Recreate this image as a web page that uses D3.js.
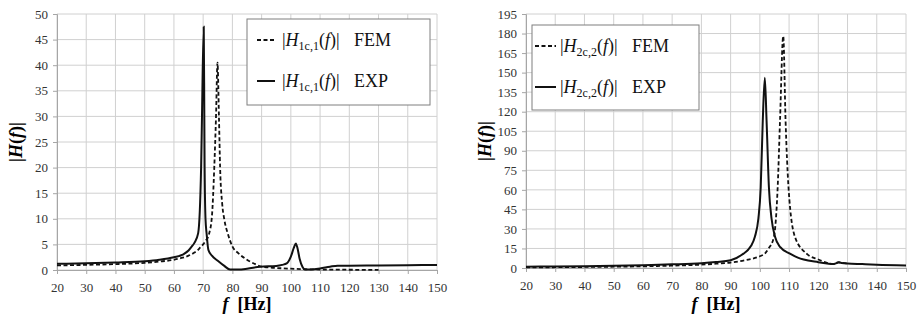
<!DOCTYPE html>
<html><head><meta charset="utf-8">
<script src="https://cdn.jsdelivr.net/npm/d3@7"></script>
<style>body{margin:0;background:#fff}svg{display:block}</style>
</head><body><svg id="c" width="921" height="320" font-family="Liberation Serif"></svg>
<script>
// ---- data ----
const xTicks = [20,30,40,50,60,70,80,90,100,110,120,130,140,150];
const yTicksLeft = [0,5,10,15,20,25,30,35,40,45,50];
const yTicksRight = [0,15,30,45,60,75,90,105,120,135,150,165,180,195];

const f1Fem = [20,30,40,50,55,60,63,65,67,68,69,70,71,72,73,73.8,74.4,74.9,75.4,75.8,76.5,77.2,78.5,80,82,85,88,90,95,100,105,110,120,130];
const v1Fem = [0.9,1.0,1.15,1.4,1.65,2.0,2.4,2.8,3.4,3.8,4.4,5.0,5.8,7.0,10.5,20,30,40.5,30,20,13,10,7,4.6,3.3,2.0,1.1,0.65,0.4,0.25,0.15,0.1,0.05,0.02];
const f1Exp = [20,30,40,50,55,60,63,65,66,67,68.3,69.3,69.6,70.2,70.4,70.5,70.8,71.2,71.8,73,75,77,79.2,82,85,89.5,95,97,98.6,100,101,101.7,102.3,103,104,104.8,107,110,113.4,116,120,130,140,150];
const v1Exp = [1.2,1.3,1.45,1.7,2.0,2.5,3.0,3.8,4.5,5.3,7.2,20,30,47.5,30,20,10,7,3.9,2.8,1.8,0.9,0.1,0.1,0.25,0.65,0.8,1.0,1.3,2.6,4.3,5.2,4.2,2.2,0.6,0.1,0.1,0.3,0.65,0.85,0.85,0.9,0.95,1.0];

const f2Fem = [20,30,40,50,60,70,80,85,90,95,100,101.7,103,104.8,106.1,106.9,108,108.8,109.8,112,116,120,123,125,127,128,130];
const v2Fem = [0.5,0.6,0.8,1.0,1.3,1.8,2.6,3.3,4.2,6.0,9.0,11,15,23.8,62,113,178,113,62,24,11,6.5,4.0,3.0,4.5,4.0,3.5];
const f2Exp = [20,30,40,50,60,70,80,85,90,94.4,96,97,98.3,99.5,100.3,101,101.7,102.3,103.1,104,105.2,107,110.3,113,115,120,123,125,127,128,130,135,140,150];
const v2Exp = [1.0,1.2,1.4,1.7,2.2,2.8,3.7,4.6,6.0,11,14,17,24,38,62,113,146,113,62,38,24,16,11,8,6.5,4.5,3.5,3.0,4.2,3.9,3.5,3.0,2.5,2.0];

const legendSub = ["1c,1","2c,2"];

// ---- drawing ----
const SERIF = "Liberation Serif";
const svg = d3.select("#c");

function panel(o){
  const x = d3.scaleLinear().domain([20,150]).range([o.x0,o.x1]);
  const y = d3.scaleLinear().domain([0,o.yMax]).range([o.y0,o.y1]);
  const g = svg.append("g").attr("font-family",SERIF);
  // grid
  g.selectAll(".gx").data(xTicks).join("line")
    .attr("x1",d=>x(d)).attr("x2",d=>x(d)).attr("y1",o.y0).attr("y2",o.y1)
    .attr("stroke","#d0d0d0").attr("stroke-width",1);
  g.selectAll(".gy").data(o.yTicks).join("line")
    .attr("x1",o.x0).attr("x2",o.x1).attr("y1",d=>y(d)).attr("y2",d=>y(d))
    .attr("stroke","#d0d0d0").attr("stroke-width",1);
  // axes
  const ax = g.append("g").attr("transform",`translate(0,${o.y0})`)
    .call(d3.axisBottom(x).tickValues(xTicks).tickSize(4).tickPadding(6));
  const ay = g.append("g").attr("transform",`translate(${o.x0},0)`)
    .call(d3.axisLeft(y).tickValues(o.yTicks).tickSize(4).tickPadding(5));
  [ax,ay].forEach(a=>{
    a.attr("font-family",SERIF).attr("font-size",13);
    a.select(".domain").attr("stroke","#a6a6a6");
    a.selectAll(".tick line").attr("stroke","#a6a6a6");
    a.selectAll("text").attr("fill","#333").attr("font-family",SERIF).attr("font-size",13);
  });
  ax.selectAll("text").attr("dy","0.95em");
  // lines
  const line = d3.line().x(d=>x(d[0])).y(d=>y(d[1])).curve(d3.curveMonotoneX);
  g.append("path").datum(o.fem[0].map((f,i)=>[f,o.fem[1][i]]))
    .attr("d",line).attr("fill","none").attr("stroke","#111").attr("stroke-width",1.8)
    .attr("stroke-dasharray","4,2.5");
  g.append("path").datum(o.exp[0].map((f,i)=>[f,o.exp[1][i]]))
    .attr("d",line).attr("fill","none").attr("stroke","#111").attr("stroke-width",2);
  // axis titles
  const xt = g.append("text").attr("x",(o.x0+o.x1)/2).attr("y",310)
    .attr("text-anchor","middle").attr("font-size",18).attr("font-weight","bold").attr("font-family",SERIF);
  xt.append("tspan").attr("font-style","italic").text("f");
  xt.append("tspan").text("\u00a0 [Hz]");
  const yt = g.append("text").attr("transform",`translate(${o.yTitleX},${(o.y0+o.y1)/2}) rotate(-90)`)
    .attr("text-anchor","middle").attr("font-size",18).attr("font-weight","bold").attr("font-family",SERIF);
  yt.append("tspan").text("|");
  yt.append("tspan").attr("font-style","italic").text("H");
  yt.append("tspan").text("(");
  yt.append("tspan").attr("font-style","italic").text("f");
  yt.append("tspan").text(")|");
  // legend
  const L = o.leg;
  g.append("rect").attr("x",L.x).attr("y",L.y).attr("width",L.w).attr("height",L.h)
    .attr("fill","#fff").attr("stroke","#7f7f7f").attr("stroke-width",1);
  [["FEM","4,2.5",1.8],["EXP",null,2]].forEach((r,i)=>{
    const by = L.y + 27 + i*41;
    g.append("line").attr("x1",L.sx0).attr("x2",L.sx1).attr("y1",by-6).attr("y2",by-6)
      .attr("stroke","#111").attr("stroke-width",r[2]).attr("stroke-dasharray",r[1]);
    const t = g.append("text").attr("x",L.tx).attr("y",by).attr("font-size",18).attr("font-family",SERIF).attr("fill","#111");
    t.append("tspan").text("|");
    t.append("tspan").attr("font-style","italic").text("H");
    t.append("tspan").attr("font-size",12).attr("dy",4).text(o.sub);
    t.append("tspan").attr("dy",-4).text("(");
    t.append("tspan").attr("font-style","italic").text("f");
    t.append("tspan").text(")|");
    g.append("text").attr("x",L.fx).attr("y",by).attr("font-size",18).attr("font-family",SERIF).attr("fill","#111").text(r[0]);
  });
}

panel({x0:57,x1:437,y0:270,y1:14,yMax:50,yTicks:yTicksLeft,
  fem:[f1Fem,v1Fem],exp:[f1Exp,v1Exp],yTitleX:22,sub:legendSub[0],
  leg:{x:247,y:19,w:183,h:86,sx0:257,sx1:275,tx:282,fx:354}});
panel({x0:526,x1:906,y0:268,y1:14,yMax:195,yTicks:yTicksRight,
  fem:[f2Fem,v2Fem],exp:[f2Exp,v2Exp],yTitleX:491,sub:legendSub[1],
  leg:{x:532,y:25,w:167,h:85,sx0:535,sx1:556,tx:560,fx:632}});
</script></body></html>
